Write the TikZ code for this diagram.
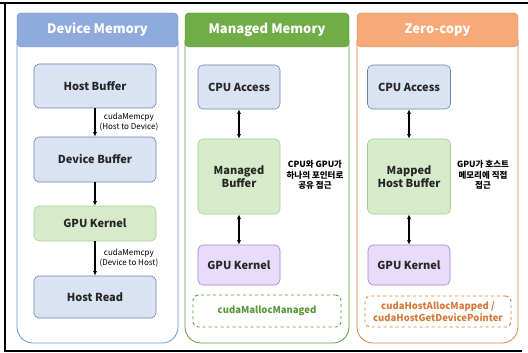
\documentclass[tikz,border=0pt]{standalone}
\usepackage{fontspec}
\setmainfont{Noto Sans CJK KR}
\usetikzlibrary{arrows.meta}

\definecolor{hdrblue}{RGB}{143,170,220}
\definecolor{hdrgreen}{RGB}{112,173,71}
\definecolor{hdrorange}{RGB}{247,170,120}
\definecolor{lineblue}{RGB}{100,150,210}
\definecolor{linegreen}{RGB}{95,155,60}
\definecolor{lineorange}{RGB}{225,130,65}
\definecolor{boxblue}{RGB}{218,227,243}
\definecolor{boxgreen}{RGB}{214,235,202}
\definecolor{boxpurple}{RGB}{231,221,250}
\definecolor{edgeblue}{RGB}{110,130,175}
\definecolor{edgegreen}{RGB}{165,205,140}
\definecolor{edgepurple}{RGB}{165,125,220}
\definecolor{txtgreen}{RGB}{90,150,55}
\definecolor{txtorange}{RGB}{215,120,55}

\tikzset{
  header/.style={rounded corners=4pt, draw=#1!80!black, fill=#1, text=white,
    font=\fontsize{13}{15}\selectfont\bfseries, minimum height=34pt, inner sep=0pt},
  panel/.style={draw=#1, line width=0.8pt, rounded corners=16pt},
  membox/.style={rounded corners=5pt, line width=0.6pt, text=black!85,
    font=\fontsize{11}{13}\selectfont\bfseries, align=center, inner sep=0pt},
  bluebox/.style={membox, draw=edgeblue, fill=boxblue},
  greenbox/.style={membox, draw=edgegreen, fill=boxgreen},
  purplebox/.style={membox, draw=edgepurple, fill=boxpurple},
  apibox/.style={rounded corners=5pt, draw=#1, dashed, line width=0.9pt, text=#1,
    font=\fontsize{9.5}{11.5}\selectfont\bfseries, align=center, inner sep=0pt},
  note/.style={font=\fontsize{8.5}{10.5}\selectfont\bfseries, align=center, inner sep=0pt},
  flow/.style={-{Latex[length=4.5pt,width=4pt]}, line width=1.1pt},
  both/.style={{Latex[length=4.5pt,width=4pt]}-{Latex[length=4.5pt,width=4pt]}, line width=1.1pt},
}

\begin{document}
\begin{tikzpicture}[x=1pt,y=-1pt]
  \useasboundingbox (0,0) rectangle (528,353);
  % screenshot frame
  \draw[line width=1.5pt] (0,3) -- (528,3);
  \draw[line width=1.5pt] (5,3) -- (5,351) -- (522,351);

  % Device Memory
  \draw[panel=lineblue] (17,40) -- (17,343) -- (178,343) -- (178,40);
  \node[header=hdrblue, minimum width=161pt] (devhdr) at (97.5,30) {Device Memory};
  \node[bluebox, minimum width=122pt, minimum height=44pt] (hostbuf) at (95,86) {Host Buffer};
  \node[bluebox, minimum width=122pt, minimum height=45pt] (devbuf) at (95,159.5) {Device Buffer};
  \node[greenbox, minimum width=122pt, minimum height=35pt] (devkern) at (95,223.5) {GPU Kernel};
  \node[bluebox, minimum width=122pt, minimum height=42pt] (hostread) at (95,297) {Host Read};
  \draw[flow] (hostbuf) -- node[note, anchor=west, xshift=4pt, font=\fontsize{8}{10}\selectfont] {cudaMemcpy\\(Host to Device)} (devbuf);
  \draw[flow] (devbuf) -- (devkern);
  \draw[flow] (devkern) -- node[note, anchor=west, xshift=4pt, font=\fontsize{8}{10}\selectfont] {cudaMemcpy\\(Device to Host)} (hostread);

  % Managed Memory
  \draw[panel=linegreen] (185,40) -- (185,343) -- (349,343) -- (349,40);
  \node[header=hdrgreen, minimum width=164pt] (mgdhdr) at (267,30) {Managed Memory};
  \node[bluebox, minimum width=82pt, minimum height=44pt] (mgdcpu) at (239,87) {CPU Access};
  \node[greenbox, minimum width=82pt, minimum height=75pt] (mgdbuf) at (239,176.5) {Managed\\Buffer};
  \node[purplebox, minimum width=82pt, minimum height=40pt] (mgdkern) at (239,265) {GPU Kernel};
  \draw[both] (mgdcpu) -- (mgdbuf);
  \draw[both] (mgdbuf) -- (mgdkern);
  \node[note] (mgdnote) at (315,175) {CPU와 GPU가\\하나의 포인터로\\공유 접근};
  \node[apibox=txtgreen, minimum width=148pt, minimum height=32pt] (mgdapi) at (267,311) {cudaMallocManaged};

  % Zero-copy
  \draw[panel=lineorange] (357,40) -- (357,343) -- (518,343) -- (518,40);
  \node[header=hdrorange, minimum width=161pt] (zchdr) at (437.5,30) {Zero-copy};
  \node[bluebox, minimum width=83pt, minimum height=44pt] (zccpu) at (409,87) {CPU Access};
  \node[greenbox, minimum width=83pt, minimum height=75pt] (zcbuf) at (409,176.5) {Mapped\\Host Buffer};
  \node[purplebox, minimum width=82pt, minimum height=40pt] (zckern) at (409,265) {GPU Kernel};
  \draw[both] (zccpu) -- (zcbuf);
  \draw[both] (zcbuf) -- (zckern);
  \node[note] (zcnote) at (483,175) {GPU가 호스트\\메모리에 직접\\접근};
  \node[apibox=txtorange, minimum width=146pt, minimum height=31pt] (zcapi) at (438,311.5) {cudaHostAllocMapped /\\cudaHostGetDevicePointer};
\end{tikzpicture}
\end{document}
